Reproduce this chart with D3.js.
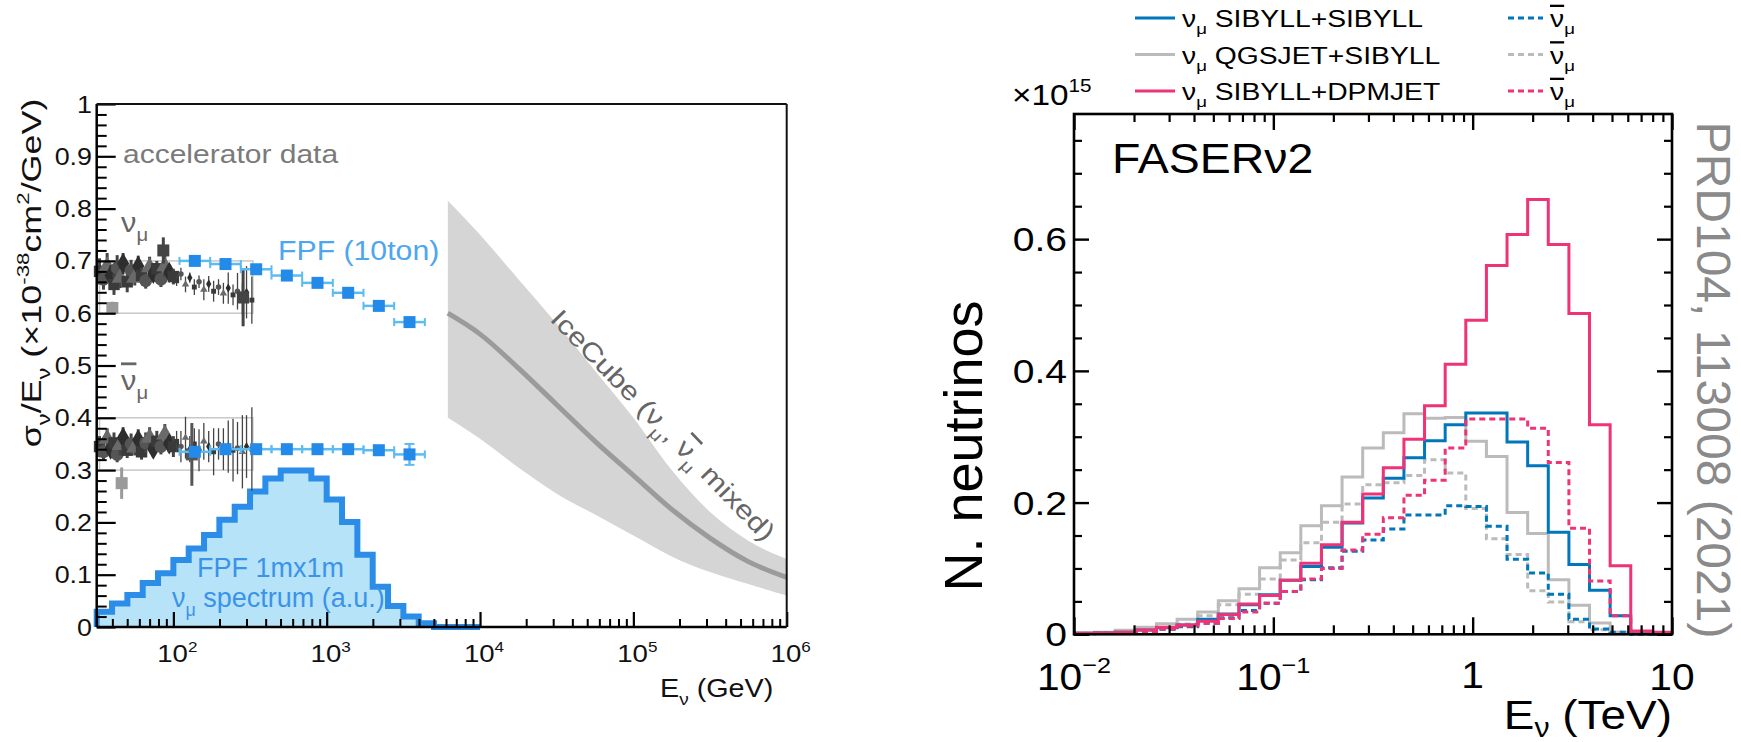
<!DOCTYPE html>
<html><head><meta charset="utf-8">
<script src="https://cdn.jsdelivr.net/npm/d3@7"></script>
<style>
body{margin:0;background:#fff}
svg{display:block}
text{font-family:"Liberation Sans",Arial,Helvetica,sans-serif}
</style>
</head><body>
<svg id="c" width="1741" height="742"></svg>
<script>
// ================= DATA =================
// ---- Left panel: sigma/E (1e-38 cm^2/GeV) vs E (GeV) ----
const fpfLogE      = [2.14, 2.34, 2.54, 2.74, 2.94, 3.14, 3.34, 3.54];
const fpfNu        = [0.700, 0.694, 0.684, 0.672, 0.658, 0.639, 0.614, 0.583];
const fpfNuErr     = [0.004, 0.004, 0.004, 0.004, 0.004, 0.005, 0.006, 0.007];
const fpfNuBar     = [0.335, 0.340, 0.340, 0.340, 0.340, 0.340, 0.338, 0.330];
const fpfNuBarErr  = [0.005, 0.005, 0.005, 0.005, 0.005, 0.006, 0.008, 0.020];

// FPF 1m x 1m nu_mu spectrum (a.u.), bins in log10(E/GeV)
const specEdges  = [1.5,1.6,1.7,1.8,1.9,2.0,2.1,2.2,2.3,2.4,2.5,2.6,2.7,2.8,2.9,3.0,3.1,3.2,3.3,3.4,3.5,3.6,3.7,3.8,3.9,4.0];
const specValues = [0.029,0.045,0.061,0.084,0.103,0.128,0.150,0.176,0.205,0.230,0.259,0.284,0.299,0.299,0.284,0.244,0.201,0.138,0.077,0.040,0.020,0.007,0,0,0];

// IceCube band, log10(E/GeV)
const iceLogE    = [3.79, 4.0, 4.25, 4.5, 4.75, 5.0, 5.25, 5.5, 5.75, 6.0];
const iceCentral = [0.600, 0.560, 0.495, 0.425, 0.355, 0.290, 0.225, 0.170, 0.125, 0.095];
const iceUpper   = [0.815, 0.750, 0.665, 0.580, 0.490, 0.400, 0.300, 0.220, 0.165, 0.130];
const iceLower   = [0.400, 0.360, 0.305, 0.255, 0.215, 0.175, 0.135, 0.105, 0.082, 0.060];

// accelerator data (nu_mu, dense + sparse)
const accNuE    = [33,35,37,39,41,43,45,47,50,53,56,59,62,66,70,74,78,83,88,94,100];
const accNuY    = [0.680,0.665,0.690,0.672,0.655,0.686,0.668,0.695,0.660,0.682,0.668,0.690,0.672,0.662,0.688,0.676,0.685,0.665,0.690,0.678,0.670];
const accNuErr  = [0.025,0.020,0.025,0.020,0.020,0.025,0.020,0.020,0.020,0.020,0.015,0.020,0.015,0.015,0.020,0.015,0.015,0.015,0.020,0.015,0.015];
const accNu2E   = [105,112,120,128,137,147,158,170,183,197,212,228,245,262,282,300,325];
const accNu2Y   = [0.662,0.675,0.655,0.668,0.650,0.660,0.645,0.656,0.642,0.650,0.638,0.648,0.635,0.642,0.628,0.640,0.625];
const accNu2Err = [0.010,0.012,0.015,0.010,0.015,0.012,0.020,0.015,0.020,0.015,0.020,0.030,0.020,0.035,0.030,0.050,0.045];
// accelerator data (anti nu_mu)
const accNbE    = [33,35,37,39,41,43,45,47,50,53,56,59,62,66,70,74,78,83,88,94,100];
const accNbY    = [0.345,0.335,0.360,0.340,0.352,0.330,0.348,0.362,0.338,0.350,0.343,0.358,0.335,0.352,0.362,0.340,0.355,0.345,0.368,0.350,0.345];
const accNbErr  = [0.020,0.015,0.020,0.015,0.020,0.015,0.020,0.020,0.015,0.020,0.015,0.020,0.015,0.020,0.020,0.015,0.020,0.015,0.020,0.015,0.020];
const accNb2E   = [105,112,120,128,137,147,158,170,183,197,212,228,245,262,282,300,325];
const accNb2Y   = [0.355,0.345,0.362,0.340,0.350,0.338,0.355,0.345,0.335,0.350,0.340,0.345,0.338,0.342,0.335,0.345,0.340];
const accNb2Err = [0.020,0.030,0.040,0.025,0.030,0.040,0.035,0.030,0.045,0.030,0.040,0.050,0.060,0.050,0.070,0.060,0.080];
// highlighted accelerator points [E, y, err, colour]
const accSpecial = [[40,0.610,0.012,'#9a9a9a'],[46,0.275,0.030,'#9a9a9a'],[86,0.720,0.025,'#444'],[132,0.330,0.060,'#555'],[285,0.630,0.055,'#444']];

const leftYTicks  = [0,0.1,0.2,0.3,0.4,0.5,0.6,0.7,0.8,0.9,1];
const leftYLabels = ['0','0.1','0.2','0.3','0.4','0.5','0.6','0.7','0.8','0.9','1'];
const leftXTicks  = [1e2,1e3,1e4,1e5,1e6];
const leftXExp    = ['2','3','4','5','6'];

// ---- Right panel: FASERnu2 N. neutrinos vs E (TeV) ----
const binLogEdges = [-2.0000,-1.8966,-1.7931,-1.6897,-1.5862,-1.4828,-1.3793,-1.2759,-1.1724,-1.0690,
  -0.9655,-0.8621,-0.7586,-0.6552,-0.5517,-0.4483,-0.3448,-0.2414,-0.1379,-0.0345,
  0.0690,0.1724,0.2759,0.3793,0.4828,0.5862,0.6897,0.7931,0.8966,1.0000];
const grayNu    = [0.002,0.003,0.006,0.0106,0.016,0.023,0.034,0.051,0.069,0.101,0.124,0.165,0.195,0.239,0.283,0.306,0.335,0.328,0.329,0.293,0.270,0.185,0.153,0.083,0.044,0.017,0.003,0.001,0];
const blueNu    = [0.0015,0.002,0.003,0.0066,0.010,0.014,0.023,0.031,0.045,0.060,0.082,0.103,0.132,0.169,0.207,0.237,0.268,0.294,0.318,0.336,0.336,0.292,0.256,0.155,0.106,0.067,0.028,0.001,0];
const pinkNu    = [0.0015,0.002,0.003,0.0066,0.0106,0.014,0.020,0.030,0.046,0.059,0.082,0.108,0.136,0.170,0.213,0.253,0.296,0.347,0.410,0.477,0.560,0.607,0.660,0.592,0.487,0.318,0.104,0.005,0.003];
const grayNuBar = [0.0015,0.002,0.004,0.006,0.0086,0.0157,0.028,0.045,0.061,0.084,0.113,0.139,0.170,0.198,0.227,0.230,0.241,0.265,0.245,0.191,0.145,0.121,0.066,0.049,0.019,0.007,0.003,0,0];
const blueNuBar = [0.001,0.0015,0.002,0.004,0.0076,0.0116,0.0167,0.025,0.036,0.047,0.065,0.083,0.101,0.126,0.143,0.160,0.181,0.181,0.195,0.194,0.164,0.114,0.093,0.061,0.023,0.008,0.003,0,0];
const pinkNuBar = [0.001,0.0015,0.002,0.004,0.008,0.0127,0.0167,0.024,0.034,0.047,0.065,0.084,0.100,0.128,0.152,0.177,0.211,0.234,0.283,0.327,0.327,0.327,0.313,0.261,0.161,0.081,0.028,0.002,0];

const rightYMajor = [0,0.2,0.4,0.6];
const rightYLabels = ['0','0.2','0.4','0.6'];
const rightYMinor = [0.05,0.1,0.15,0.25,0.3,0.35,0.45,0.5,0.55,0.65,0.7,0.75];
const rightXMajor = [0.01,0.1,1,10];
const legendNames = ['SIBYLL+SIBYLL','QGSJET+SIBYLL','SIBYLL+DPMJET'];
const seriesColors = ['#0077bb','#bbbbbb','#ee3377'];

// ================= DRAW =================
const svg = d3.select('#c');

function rich(parent, x, y, parts, o) {
  const t = parent.append('text')
    .attr('transform', `translate(${x},${y}) rotate(${o.rot||0}) scale(${o.sx||1},1)`)
    .attr('font-size', o.size).attr('fill', o.fill||'#000')
    .attr('text-anchor', o.anchor||'start');
  let cur = 0;
  const subOff = o.subOff || 0.32;
  parts.forEach(p => {
    const [s, kind] = Array.isArray(p) ? p : [p, 'n'];
    let off = 0, fs = o.size;
    if (kind === 'sub') { off = subOff*o.size; fs = 0.66*o.size; }
    if (kind === 'sup') { off = -0.45*o.size; fs = 0.62*o.size; }
    const ts = t.append('tspan').attr('dy', off - cur).attr('font-size', fs).text(s);
    if (kind === 'bar') ts.style('text-decoration', 'overline');
    cur = off;
  });
  return t;
}

function tickAxis(gen, scale, vals, len, tx, ty, sw) {
  svg.append('g').attr('transform', `translate(${tx},${ty})`)
    .call(gen(scale).tickValues(vals).tickSizeInner(-len).tickSizeOuter(0).tickFormat(() => ''))
    .call(g => { g.select('.domain').remove(); g.selectAll('line').attr('stroke', '#000').attr('stroke-width', sw); });
}

// ---------- LEFT PANEL ----------
const xL = d3.scaleLog().domain([Math.pow(10,1.5), 1e6]).range([96.7, 786.7]);
const yL = d3.scaleLinear().domain([0, 1]).range([627, 104]);
const L = svg.append('g');

// IceCube band
const iceData = iceLogE.map((l,i) => ({e: Math.pow(10,l), c: iceCentral[i], u: iceUpper[i], d: iceLower[i]}));
L.append('path').datum(iceData)
  .attr('d', d3.area().x(d => xL(d.e)).y0(d => yL(d.d)).y1(d => yL(d.u)).curve(d3.curveMonotoneX))
  .attr('fill', '#d5d5d5');
L.append('path').datum(iceData)
  .attr('d', d3.line().x(d => xL(d.e)).y(d => yL(d.c)).curve(d3.curveMonotoneX))
  .attr('fill', 'none').attr('stroke', '#9b9b9b').attr('stroke-width', 5);

// accelerator reference boxes
[[0.6,0.7],[0.3,0.4]].forEach(([a,b]) => {
  L.append('rect').attr('x', xL(33)).attr('y', yL(b)).attr('width', xL(330)-xL(33)).attr('height', yL(a)-yL(b))
    .attr('fill','none').attr('stroke','#c8c8c8').attr('stroke-width',1.5);
});

// FPF spectrum histogram
const specPts = specValues.map((v,i) => ({e: Math.pow(10,specEdges[i]), v}));
specPts.push({e: Math.pow(10, specEdges[specEdges.length-1]), v: specValues[specValues.length-1]});
L.append('path').datum(specPts)
  .attr('d', d3.area().x(d => xL(d.e)).y0(yL(0)).y1(d => yL(d.v)).curve(d3.curveStepAfter))
  .attr('fill', '#b6e3f8');
const specLine = [{e: specPts[0].e, v: 0}].concat(specPts);
L.append('path').datum(specLine)
  .attr('d', d3.line().x(d => xL(d.e)).y(d => yL(d.v)).curve(d3.curveStepAfter))
  .attr('fill','none').attr('stroke','#2b8de8').attr('stroke-width',6).attr('stroke-linejoin','miter');

// accelerator data points
const shapes = [d3.symbolSquare, d3.symbolCircle, d3.symbolTriangle, d3.symbolDiamond];
const grays = ['#3a3a3a','#555','#6a6a6a','#2e2e2e'];
function accSet(E, Y, Err, size, wBar) {
  E.forEach((e,i) => {
    L.append('line').attr('x1', xL(e)).attr('x2', xL(e)).attr('y1', yL(Y[i]-Err[i])).attr('y2', yL(Y[i]+Err[i]))
      .attr('stroke', '#444').attr('stroke-width', wBar);
    L.append('path').attr('d', d3.symbol().type(shapes[i%4]).size(size)())
      .attr('transform', `translate(${xL(e)},${yL(Y[i])})`).attr('fill', grays[i%4]);
  });
}
accSet(accNuE, accNuY, accNuErr, 130, 3);
accSet(accNbE, accNbY, accNbErr, 130, 3);
accSet(accNu2E, accNu2Y, accNu2Err, 24, 1.3);
accSet(accNb2E, accNb2Y, accNb2Err, 24, 1.3);
accSpecial.forEach(([e,v,err,col]) => {
  L.append('line').attr('x1', xL(e)).attr('x2', xL(e)).attr('y1', yL(v-err)).attr('y2', yL(v+err)).attr('stroke', col).attr('stroke-width', 3);
  L.append('rect').attr('x', xL(e)-6).attr('y', yL(v)-6).attr('width',12).attr('height',12).attr('fill', col);
});

// FPF projected points
function fpfSet(vals, errs) {
  fpfLogE.forEach((l,i) => {
    const x0 = xL(Math.pow(10,l-0.1)), x1 = xL(Math.pow(10,l+0.1)), xc = xL(Math.pow(10,l)), yc = yL(vals[i]);
    L.append('line').attr('x1',x0).attr('x2',x1).attr('y1',yc).attr('y2',yc).attr('stroke','#5cbcf2').attr('stroke-width',2.5);
    [x0,x1].forEach(xx => L.append('line').attr('x1',xx).attr('x2',xx).attr('y1',yc-4).attr('y2',yc+4).attr('stroke','#5cbcf2').attr('stroke-width',2));
    L.append('line').attr('x1',xc).attr('x2',xc).attr('y1',yL(vals[i]-errs[i])).attr('y2',yL(vals[i]+errs[i])).attr('stroke','#5cbcf2').attr('stroke-width',2.5);
    if (errs[i] > 0.01) [vals[i]-errs[i], vals[i]+errs[i]].forEach(vv => L.append('line').attr('x1',xc-5).attr('x2',xc+5).attr('y1',yL(vv)).attr('y2',yL(vv)).attr('stroke','#5cbcf2').attr('stroke-width',2));
    L.append('rect').attr('x',xc-6).attr('y',yc-6).attr('width',12).attr('height',12).attr('fill','#238aea');
  });
}
fpfSet(fpfNu, fpfNuErr);
fpfSet(fpfNuBar, fpfNuBarErr);

// left axes
const leftMinorY = d3.range(0, 1.0001, 0.02).filter(v => Math.abs(v*10 - Math.round(v*10)) > 1e-6);
tickAxis(d3.axisLeft, yL, leftMinorY, 10, xL.range()[0], 0, 2);
tickAxis(d3.axisLeft, yL, leftYTicks, 19, xL.range()[0], 0, 2.2);
const leftMinorX = [];
[10,100,1000,10000,100000].forEach(d => { for (let k=2;k<=9;k++) { const v=d*k; if (v > xL.domain()[0] && v < 1e6) leftMinorX.push(v); } });
tickAxis(d3.axisBottom, xL, leftMinorX, 8, 0, yL(0), 2);
tickAxis(d3.axisBottom, xL, leftXTicks, 15, 0, yL(0), 2.2);
// frame
svg.append('line').attr('x1', xL.range()[0]).attr('x2', xL.range()[0]).attr('y1', yL(1)).attr('y2', yL(0)).attr('stroke','#000').attr('stroke-width',2.5);
svg.append('line').attr('x1', xL.range()[0]).attr('x2', xL.range()[1]).attr('y1', yL(0)).attr('y2', yL(0)).attr('stroke','#000').attr('stroke-width',2.5);
svg.append('line').attr('x1', xL.range()[0]).attr('x2', xL.range()[1]).attr('y1', yL(1)).attr('y2', yL(1)).attr('stroke','#111').attr('stroke-width',2);
svg.append('line').attr('x1', xL.range()[1]).attr('x2', xL.range()[1]).attr('y1', yL(1)).attr('y2', yL(0)).attr('stroke','#111').attr('stroke-width',2);

// left tick labels
leftYTicks.forEach((v,i) => rich(svg, 92, yL(v)+8.5, [leftYLabels[i]], {size:24, sx:1.12, anchor:'end', fill:'#111'}));
leftXTicks.forEach((v,i) => rich(svg, xL(v)+4, 662, ['10', [leftXExp[i],'sup']], {size:23, sx:1.2, anchor:'middle', fill:'#111'}));
rich(svg, 660, 697, ['E', ['ν','sub'], ' (GeV)'], {size:25, sx:1.15, fill:'#111'});
rich(svg, 41, 273, ['σ', ['ν','sub'], '/E', ['ν','sub'], ' (×10', ['-38','sup'], 'cm', ['2','sup'], '/GeV)'], {size:27, sx:1.33, rot:-90, anchor:'middle', fill:'#111'});

// left annotations
rich(svg, 123, 163, ['accelerator data'], {size:25, sx:1.2, fill:'#7a7a7a'});
rich(svg, 121, 232, ['ν', ['μ','sub']], {size:28, sx:1.1, fill:'#666'});
rich(svg, 121, 390, [['ν','bar'], ['μ','sub']], {size:28, sx:1.1, fill:'#666'});
rich(svg, 278, 260, ['FPF (10ton)'], {size:27, sx:1.12, fill:'#4ea6ee'});
rich(svg, 197, 577, ['FPF 1mx1m'], {size:27, sx:1.0, fill:'#3b93e8'});
rich(svg, 172, 607, ['ν', ['μ','sub'], ' spectrum (a.u.)'], {size:27, sx:1.0, fill:'#3b93e8'});
rich(svg, 549, 320, ['IceCube (ν', ['μ','sub'], ', ', ['ν','bar'], ['μ','sub'], ' mixed)'], {size:26, sx:1.2, rot:46, fill:'#666'});

// ---------- RIGHT PANEL ----------
const xR = d3.scaleLog().domain([0.01, 10]).range([1074, 1672]);
const yR = d3.scaleLinear().domain([0, 0.79]).range([634.3, 114]);
const R = svg.append('g');

function histPts(vals) {
  const pts = vals.map((v,i) => ({e: Math.pow(10, binLogEdges[i]), v}));
  pts.push({e: Math.pow(10, binLogEdges[binLogEdges.length-1]), v: vals[vals.length-1]});
  return pts;
}
const histLine = d3.line().x(d => xR(d.e)).y(d => yR(d.v)).curve(d3.curveStepAfter);
const series = [
  {vals: grayNu, col: seriesColors[1], dash: null},
  {vals: grayNuBar, col: seriesColors[1], dash: '6,4'},
  {vals: blueNu, col: seriesColors[0], dash: null},
  {vals: blueNuBar, col: seriesColors[0], dash: '6,4'},
  {vals: pinkNuBar, col: seriesColors[2], dash: '6,4'},
  {vals: pinkNu, col: seriesColors[2], dash: null}
];
series.forEach(s => {
  R.append('path').datum(histPts(s.vals)).attr('d', histLine)
    .attr('fill','none').attr('stroke', s.col).attr('stroke-width', 3)
    .attr('stroke-dasharray', s.dash);
});

// right axes ticks
const rxMinor = [];
[0.01,0.1,1].forEach(d => { for (let k=2;k<=9;k++) rxMinor.push(d*k); });
tickAxis(d3.axisBottom, xR, rxMinor, 9, 0, yR(0), 2.2);
tickAxis(d3.axisBottom, xR, rightXMajor, 17, 0, yR(0), 2.4);
tickAxis(d3.axisTop, xR, rxMinor, 8, 0, yR.range()[1], 2.2);
tickAxis(d3.axisTop, xR, rightXMajor, 16, 0, yR.range()[1], 2.4);
tickAxis(d3.axisLeft, yR, rightYMinor, 8, xR.range()[0], 0, 2.2);
tickAxis(d3.axisLeft, yR, rightYMajor, 15, xR.range()[0], 0, 2.4);
tickAxis(d3.axisRight, yR, rightYMinor, 8, xR.range()[1], 0, 2.2);
tickAxis(d3.axisRight, yR, rightYMajor, 15, xR.range()[1], 0, 2.4);
R.append('rect').attr('x', xR.range()[0]).attr('y', yR.range()[1])
  .attr('width', xR.range()[1]-xR.range()[0]).attr('height', yR.range()[0]-yR.range()[1])
  .attr('fill','none').attr('stroke','#000').attr('stroke-width',2.6);

// right tick labels
rightYMajor.forEach((v,i) => rich(svg, 1067, yR(v)+12, [rightYLabels[i]], {size:34, sx:1.15, anchor:'end'}));
rich(svg, xR(0.01), 690, ['10', ['−2','sup']], {size:37, sx:1.1, anchor:'middle'});
rich(svg, xR(0.1), 690, ['10', ['−1','sup']], {size:37, sx:1.1, anchor:'middle'});
rich(svg, xR(1), 688, ['1'], {size:37, sx:1.1, anchor:'middle'});
rich(svg, xR(10), 690, ['10'], {size:37, sx:1.1, anchor:'middle'});
rich(svg, 1672, 729, ['E', ['ν','sub'], ' (TeV)'], {size:41, sx:1.12, anchor:'end', subOff:0.2});
rich(svg, 982, 446, ['N. neutrinos'], {size:54, sx:1.0, rot:-90, anchor:'middle'});
rich(svg, 1012, 105, ['×10', ['15','sup']], {size:29, sx:1.15});
rich(svg, 1112, 173, ['FASERν2'], {size:43, sx:1.08});
rich(svg, 1697, 380, ['PRD104, 113008 (2021)'], {size:48, rot:90, anchor:'middle', fill:'#8a8a8a'});

// legend
const legY = [18, 54.5, 91];
legendNames.forEach((name,i) => {
  const col = seriesColors[i];
  svg.append('line').attr('x1',1135).attr('x2',1175).attr('y1',legY[i]).attr('y2',legY[i]).attr('stroke',col).attr('stroke-width',3);
  rich(svg, 1182, legY[i]+9, ['ν', ['μ','sub'], ' ' + name], {size:23, sx:1.23});
  svg.append('line').attr('x1',1508).attr('x2',1543).attr('y1',legY[i]).attr('y2',legY[i]).attr('stroke',col).attr('stroke-width',3).attr('stroke-dasharray','6,4');
  rich(svg, 1550, legY[i]+9, [['ν','bar'], ['μ','sub']], {size:23, sx:1.23});
});
</script>
</body></html>
